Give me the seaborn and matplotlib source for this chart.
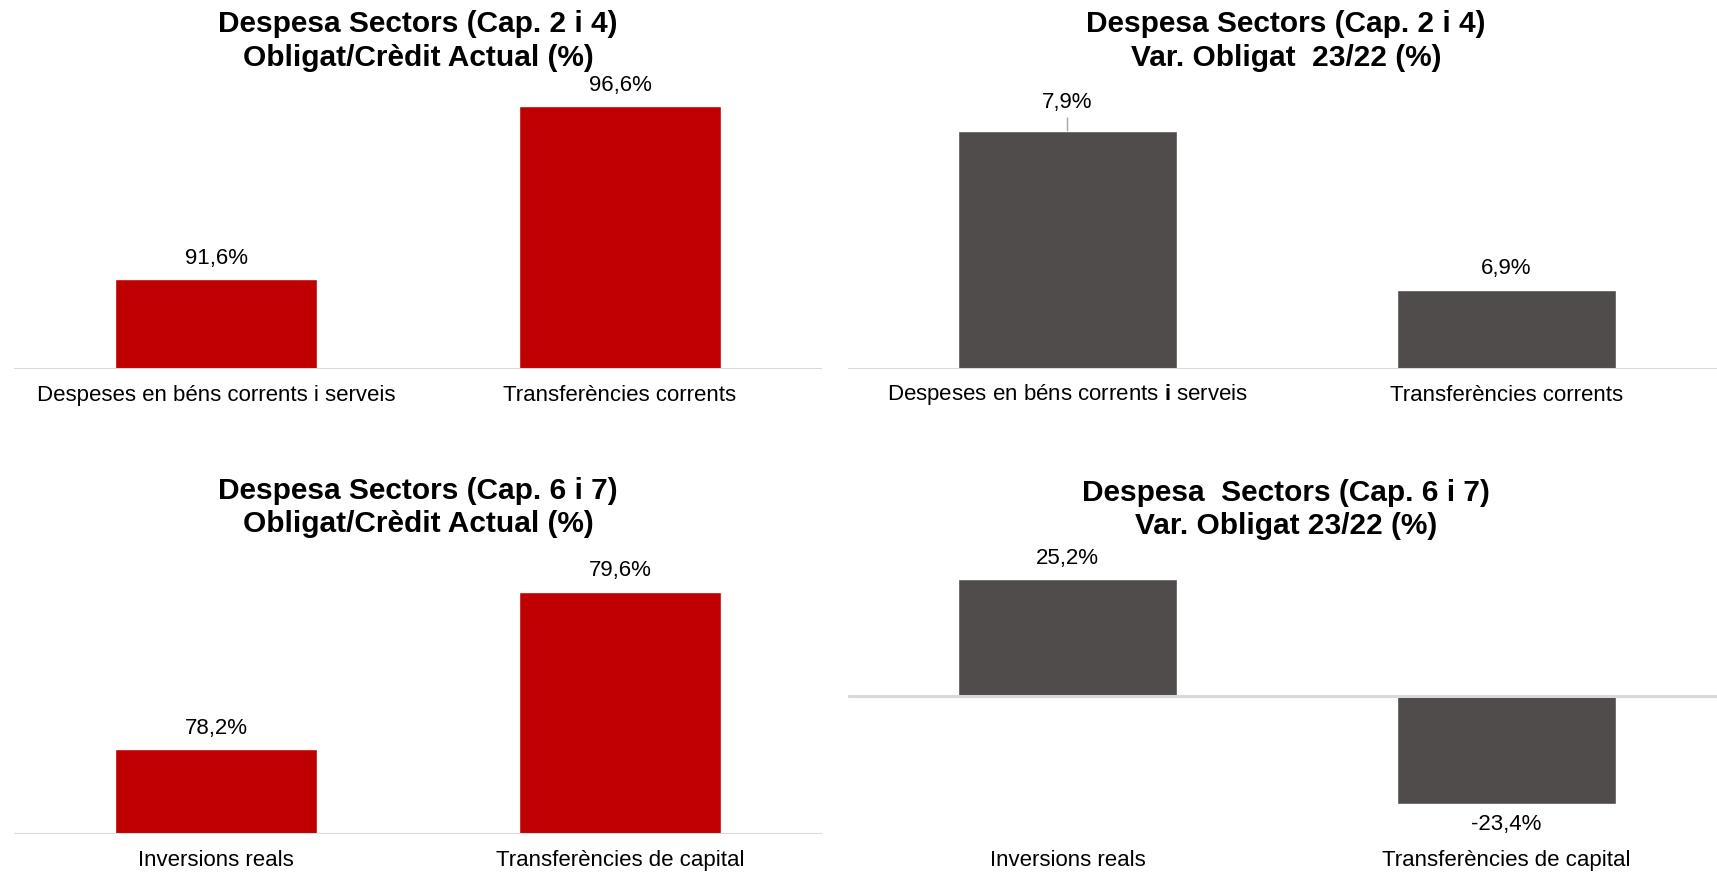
import matplotlib
matplotlib.use("Agg")
import matplotlib.pyplot as plt
from matplotlib.transforms import ScaledTranslation
import pandas as pd
import seaborn as sns

# Cap. 2 i 4
cats_corrents = ["Despeses en béns corrents i serveis", "Transferències corrents"]
cats_corrents_var = [r"Despeses en béns corrents $\mathbf{i}$ serveis", "Transferències corrents"]
oblig_credit_corrents = [91.6, 96.6]
var_oblig_corrents = [7.9, 6.9]

# Cap. 6 i 7
cats_capital = ["Inversions reals", "Transferències de capital"]
oblig_credit_capital = [78.2, 79.6]
var_oblig_capital = [25.2, -23.4]

titles = [
    "Despesa Sectors (Cap. 2 i 4)\nObligat/Crèdit Actual (%)",
    "Despesa Sectors (Cap. 2 i 4)\nVar. Obligat  23/22 (%)",
    "Despesa Sectors (Cap. 6 i 7)\nObligat/Crèdit Actual (%)",
    "Despesa  Sectors (Cap. 6 i 7)\nVar. Obligat 23/22 (%)",
]

RED = "#C00000"
GREY = "#504C4B"
AXIS = "#D9D9D9"

sns.set_style("white")
plt.rcParams["font.family"] = ["Liberation Sans", "DejaVu Sans"]
plt.rcParams["text.color"] = "black"
plt.rcParams["mathtext.fontset"] = "custom"
plt.rcParams["mathtext.rm"] = "Liberation Sans"
plt.rcParams["mathtext.bf"] = "Liberation Sans:bold"

W, H = 1717, 873
fig = plt.figure(figsize=(W / 100, H / 100), dpi=100)


def rect(x0, x1, top, bottom):
    return [x0 / W, (H - bottom) / H, (x1 - x0) / W, (bottom - top) / H]


panels = [
    (rect(14, 822, 60, 369), cats_corrents, oblig_credit_corrents, RED, (89.0, 97.93), 89.0),
    (rect(848, 1726, 60, 369), cats_corrents_var, var_oblig_corrents, GREY, (6.4, 8.346), 6.4),
    (rect(14, 822, 525, 834), cats_capital, oblig_credit_capital, RED, (77.45, 80.19), 77.45),
    (rect(848, 1726, 525, 834), cats_capital, var_oblig_capital, GREY, (-30, 37), 0),
]
title_pos = [(418, 10), (1286, 10), (418, 477), (1286, 479)]

for i, (r, cats, vals, color, ylim, base) in enumerate(panels):
    ax = fig.add_axes(r)
    df = pd.DataFrame({"cat": cats, "val": vals})
    sns.barplot(data=df, x="cat", y="val", color=color, saturation=1,
                width=0.5, ax=ax, errorbar=None)
    ax.set_ylim(*ylim)
    ax.set_xlim(-0.5, 1.5)
    ax.set_xlabel("")
    ax.set_ylabel("")
    ax.set_yticks([])
    for s in ax.spines.values():
        s.set_visible(False)
    ax.axhline(base, color=AXIS, lw=2.2, zorder=3)
    ax.tick_params(axis="x", length=0, pad=11.5, labelsize=16, labelcolor="black")
    if i == 1:
        # the mathtext label sits a little lower, lift it back in line
        lab = ax.get_xticklabels()[0]
        lab.set_transform(lab.get_transform() + ScaledTranslation(0, 2.5 / 100, fig.dpi_scale_trans))

    for j, v in enumerate(vals):
        txt = f"{v:.1f}%".replace(".", ",")
        if i == 1 and j == 0:
            ax.annotate(txt, xy=(j, v), xytext=(0, 28), textcoords="offset pixels",
                        ha="center", va="center", fontsize=16, color="black",
                        arrowprops=dict(arrowstyle="-", color="#A6A6A6", lw=1,
                                        shrinkA=1, shrinkB=0))
        else:
            off = 21 if v >= base else -21
            ax.annotate(txt, xy=(j, v), xytext=(0, off), textcoords="offset pixels",
                        ha="center", va="center", fontsize=16, color="black")

    tx, ty = title_pos[i]
    fig.text(tx / W, 1 - ty / H, titles[i], ha="center", va="top", color="black",
             fontsize=21.5, fontweight="bold", linespacing=1.25)

fig.savefig("out.png", dpi=100, facecolor="white")
